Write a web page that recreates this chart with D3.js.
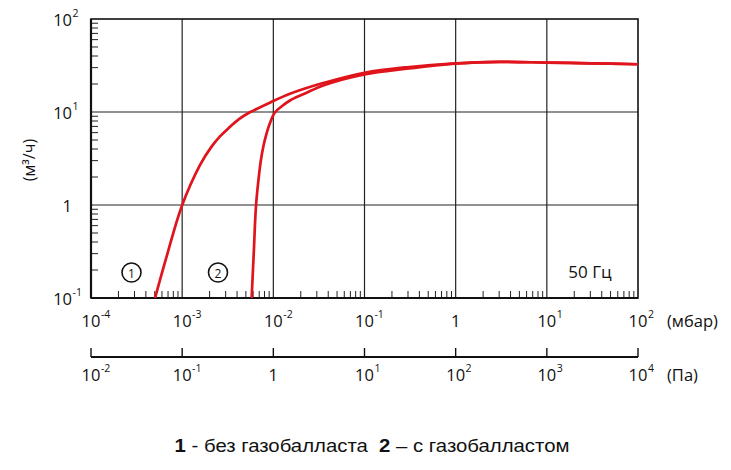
<!DOCTYPE html>
<html><head><meta charset="utf-8">
<script src="https://cdn.jsdelivr.net/npm/d3@7"></script>
<style>
body{margin:0;background:#fff;}
svg{display:block;}
text{font-family:"Open Sans","Noto Sans",sans-serif;fill:#111;}
</style></head>
<body>
<svg id="c" width="731" height="470"></svg>
<script>
// ---- data ----
const curve1P = [5.04e-4, 6.76e-4, 9.9e-4, 1.567e-3, 2.10e-3, 2.6e-3, 3.20e-3, 4.2e-3, 5.53e-3, 9.97e-3, 1.52e-2, 2.22e-2, 3.52e-2, 0.1, 0.29, 1, 3, 10, 30, 100];
const curve1S = [0.1, 0.28, 0.97, 2.68, 4.24, 5.47, 6.65, 8.37, 9.93, 13.1, 15.7, 17.9, 20.5, 26.4, 30.3, 33.4, 34.6, 34.0, 33.4, 32.6];
const curve2P = [5.78e-3, 6.12e-3, 6.44e-3, 6.87e-3, 7.31e-3, 7.79e-3, 8.45e-3, 9.19e-3, 1.04e-2, 1.27e-2, 1.52e-2, 1.73e-2, 2.22e-2, 3.52e-2, 0.1, 0.29, 1, 3, 10, 30, 100];
const curve2S = [0.1, 0.328, 0.95, 1.86, 3.05, 4.31, 5.94, 7.62, 9.88, 11.75, 13.3, 14.2, 15.8, 19.3, 25.4, 29.2, 33.1, 34.6, 34.0, 33.4, 32.6];
const mbarTickExps = [-4, -3, -2, -1, 0, 1, 2];
const paTickExps = [-2, -1, 0, 1, 2, 3, 4];
const yTickExps = [-1, 0, 1, 2];
const minorMult = [2, 3, 4, 5, 6, 7, 8, 9];
const labels = {
  y: "(м³/ч)", mbar: "(мбар)", pa: "(Па)", freq: "50 Гц",
  c1: "1", c2: "2",
  legend: [["1", true], [" - без газобалласта\u00a0\u00a0", false], ["2", true], [" – с газобалластом", false]]
};

// ---- layout ----
const L = 91, R = 638, T = 19, B = 298, PA_Y = 357;
const svg = d3.select("#c");
const x = d3.scaleLog().domain([1e-4, 1e2]).range([L, R]);
const xPa = d3.scaleLog().domain([1e-2, 1e4]).range([L, R]);
const y = d3.scaleLog().domain([1e-1, 1e2]).range([B, T]);

// gridlines
const g = svg.append("g");
g.selectAll("line.vg").data(mbarTickExps.slice(1, -1)).join("line")
  .attr("x1", d => x(Math.pow(10, d))).attr("x2", d => x(Math.pow(10, d)))
  .attr("y1", T).attr("y2", B).attr("stroke", "#222").attr("stroke-width", 1.2);
g.selectAll("line.hg").data(yTickExps.slice(1, -1)).join("line")
  .attr("y1", d => y(Math.pow(10, d))).attr("y2", d => y(Math.pow(10, d)))
  .attr("x1", L).attr("x2", R).attr("stroke", "#222").attr("stroke-width", 1.2);

// minor ticks
const xMinor = [];
mbarTickExps.slice(0, -1).forEach(e => minorMult.forEach(m => xMinor.push(m * Math.pow(10, e))));
g.selectAll("line.xm").data(xMinor).join("line")
  .attr("x1", d => x(d)).attr("x2", d => x(d)).attr("y1", B).attr("y2", B - 7)
  .attr("stroke", "#222").attr("stroke-width", 1);
const yMinor = [];
yTickExps.slice(0, -1).forEach(e => minorMult.forEach(m => yMinor.push(m * Math.pow(10, e))));
g.selectAll("line.ym").data(yMinor).join("line")
  .attr("y1", d => y(d)).attr("y2", d => y(d)).attr("x1", L).attr("x2", L + 7)
  .attr("stroke", "#222").attr("stroke-width", 1);

// frame
g.append("rect").attr("x", L).attr("y", T).attr("width", R - L).attr("height", B - T)
  .attr("fill", "none").attr("stroke", "#111").attr("stroke-width", 1.6);
g.append("line").attr("x1", L).attr("x2", L).attr("y1", T).attr("y2", B).attr("stroke", "#111").attr("stroke-width", 2.2);
g.append("line").attr("x1", L).attr("x2", R).attr("y1", B).attr("y2", B).attr("stroke", "#111").attr("stroke-width", 2.2);

// clip & curves
svg.append("clipPath").attr("id", "clip").append("rect")
  .attr("x", L).attr("y", T).attr("width", R - L).attr("height", B - T);
const line = d3.line().x(d => x(d[0])).y(d => y(d[1])).curve(d3.curveCatmullRom.alpha(0.5));
const cg = svg.append("g").attr("clip-path", "url(#clip)");
[[curve1P, curve1S], [curve2P, curve2S]].forEach(([p, s]) => {
  cg.append("path").datum(p.map((v, i) => [v, s[i]]))
    .attr("d", line).attr("fill", "none").attr("stroke", "#e0141c")
    .attr("stroke-width", 2.7).attr("stroke-linejoin", "round");
});

// power-of-ten label helper
function powLabel(parent, px, py, e, anchor) {
  const base = e === 0 ? "1" : "10";
  const t = parent.append("text").attr("x", px).attr("y", py).attr("font-size", 16.5)
    .attr("dominant-baseline", "central").text(base);
  const w = t.node().getComputedTextLength();
  const bx = anchor === "middle" ? px - w / 2 : px - w;
  t.attr("x", bx);
  if (e !== 0) {
    parent.append("text").attr("x", bx + w + 0.5).attr("y", py - 6.5).attr("font-size", 10.5)
      .attr("dominant-baseline", "central").text(String(e));
  }
}

// y labels
yTickExps.forEach(e => powLabel(svg, 72, y(Math.pow(10, e)), e, "end"));
// x mbar labels
mbarTickExps.forEach(e => powLabel(svg, x(Math.pow(10, e)), 320, e, "middle"));
svg.append("text").attr("x", 667).attr("y", 320).attr("font-size", 16.5)
  .attr("dominant-baseline", "central").text(labels.mbar);

// Pa axis
const pg = svg.append("g");
pg.append("line").attr("x1", L).attr("x2", R).attr("y1", PA_Y).attr("y2", PA_Y)
  .attr("stroke", "#111").attr("stroke-width", 2.2);
pg.selectAll("line.pt").data(paTickExps).join("line")
  .attr("x1", d => xPa(Math.pow(10, d))).attr("x2", d => xPa(Math.pow(10, d)))
  .attr("y1", PA_Y).attr("y2", PA_Y - 9).attr("stroke", "#111").attr("stroke-width", 1.4);
paTickExps.forEach(e => powLabel(svg, xPa(Math.pow(10, e)), 374, e, "middle"));
svg.append("text").attr("x", 667).attr("y", 374).attr("font-size", 16.5)
  .attr("dominant-baseline", "central").text(labels.pa);

// y axis title
svg.append("text").attr("transform", "translate(29,160) rotate(-90)")
  .attr("text-anchor", "middle").attr("dominant-baseline", "central")
  .attr("font-size", 16).text(labels.y);

// circled markers
[[131.5, labels.c1], [218, labels.c2]].forEach(([cx, t]) => {
  svg.append("circle").attr("cx", cx).attr("cy", 272.5).attr("r", 9.5)
    .attr("fill", "#fff").attr("stroke", "#111").attr("stroke-width", 1.6);
  svg.append("text").attr("x", cx).attr("y", 273).attr("text-anchor", "middle")
    .attr("dominant-baseline", "central").attr("font-size", 12).text(t);
});

// frequency
svg.append("text").attr("x", 590).attr("y", 271).attr("text-anchor", "middle")
  .attr("dominant-baseline", "central").attr("font-size", 17).text(labels.freq);

// legend
const lt = svg.append("text").attr("transform", "translate(372,452) scale(1.1,1)")
  .attr("text-anchor", "middle")
  .attr("font-size", 18.5).style("font-family", "'Liberation Sans',Arial,sans-serif");
labels.legend.forEach(([s, b]) => lt.append("tspan").attr("font-weight", b ? "bold" : "normal").text(s));
</script>
</body></html>
